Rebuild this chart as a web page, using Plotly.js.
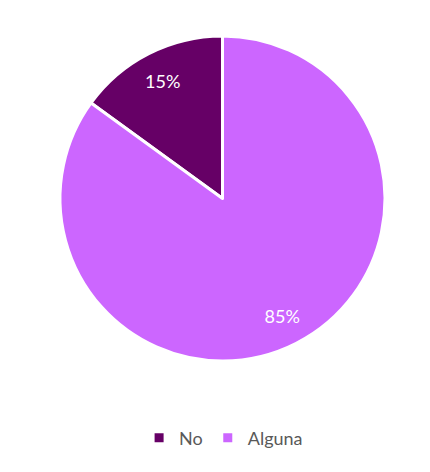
<!DOCTYPE html>
<html>
<head>
<meta charset="utf-8">
<script src="https://cdn.plot.ly/plotly-3.0.1.min.js"></script>
<style>html,body{margin:0;padding:0;background:#fff;}#chart{width:430px;height:472px;}</style>
</head>
<body>
<div id="chart"></div>
<script>
const labels = ["No", "Alguna"];
const values = [15, 85];
const colors = ["#660066", "#CC66FF"];

const dom = {x: [60/430, 385/430], y: [1 - 361/472, 1 - 36/472]};
const fontFam = "Lato, Open Sans, Liberation Sans, sans-serif";
const startAngle = -360 * values[0] / (values[0] + values[1]);

const pieTrace = {
  type: "pie",
  labels: labels,
  values: values,
  sort: false,
  direction: "clockwise",
  rotation: startAngle,
  marker: {colors: colors, line: {color: "#ffffff", width: 3}},
  textinfo: "none",
  hoverinfo: "none",
  domain: dom
};

// transparent ring used only to place the percent labels further out
const labelTrace = {
  type: "pie",
  labels: labels,
  values: values,
  sort: false,
  direction: "clockwise",
  rotation: startAngle,
  hole: 0.62,
  showlegend: false,
  marker: {colors: ["rgba(0,0,0,0)", "rgba(0,0,0,0)"], line: {width: 0}},
  texttemplate: "%{percent:.0%}",
  textposition: "inside",
  insidetextorientation: "horizontal",
  textfont: {family: fontFam, size: 18, color: "#ffffff"},
  hoverinfo: "none",
  domain: dom
};

const layout = {
  width: 430,
  height: 472,
  margin: {l: 0, r: 0, t: 0, b: 0},
  paper_bgcolor: "#ffffff",
  showlegend: true,
  legend: {
    orientation: "h",
    x: 0.52, xanchor: "center",
    y: 1 - 438/472, yanchor: "middle",
    font: {family: fontFam, size: 18, color: "#595959"},
    itemwidth: 30
  }
};

Plotly.newPlot("chart", [pieTrace, labelTrace], layout, {displayModeBar: false, staticPlot: true});
</script>
</body>
</html>
